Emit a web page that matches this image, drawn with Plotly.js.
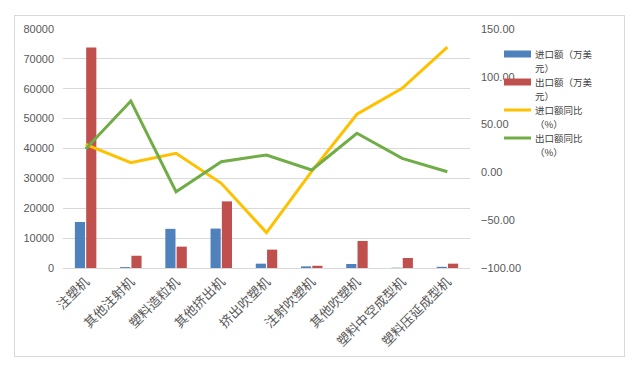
<!DOCTYPE html>
<html>
<head>
<meta charset="utf-8">
<script src="https://cdn.plot.ly/plotly-3.0.1.min.js"></script>
<style>
html,body{margin:0;padding:0;background:#fff;}
#frame{position:absolute;left:14px;top:15px;width:611px;height:342px;border:1px solid #d9d9d9;box-sizing:border-box;pointer-events:none;z-index:2;}
#chart{position:absolute;left:0;top:0;width:642px;height:368px;}
</style>
</head>
<body>
<div id="chart"></div>
<div id="frame"></div>
<script>
var categories = ["注塑机","其他注射机","塑料造粒机","其他挤出机","挤出吹塑机","注射吹塑机","其他吹塑机","塑料中空成型机","塑料压延成型机"];
var importValue = [15400, 300, 13100, 13200, 1450, 550, 1350, 100, 400];
var exportValue = [73800, 4100, 7150, 22300, 6150, 750, 9050, 3350, 1450];
var importYoY = [29.4, 10.1, 20.0, -11.4, -63.0, 1.0, 60.8, 88.0, 131.0];
var exportYoY = [24.5, 74.7, -20.2, 11.2, 18.2, 2.5, 40.9, 14.7, 0.7];
var seriesNames = ["进口额（万美元）", "出口额（万美元）", "进口额同比（%）", "出口额同比（%）"];
var legendLines = [["进口额（万美", "元）"], ["出口额（万美", "元）"], ["进口额同比", "（%）"], ["出口额同比", "（%）"]];

var BLUE = "#4F81BD", RED = "#C0504D", YELLOW = "#FFC000", GREEN = "#70AD47";
var seriesColors = [BLUE, RED, YELLOW, GREEN];
var symbolWidths = [7, 7, 3, 3];
var cjk = "'Noto Sans CJK SC', 'Liberation Sans', sans-serif";

var traces = [
  {type:"bar", x:categories, y:importValue, name:seriesNames[0], marker:{color:BLUE}, yaxis:"y"},
  {type:"bar", x:categories, y:exportValue, name:seriesNames[1], marker:{color:RED}, yaxis:"y"},
  {type:"scatter", mode:"lines", x:categories, y:importYoY, name:seriesNames[2], line:{color:YELLOW, width:3}, yaxis:"y2"},
  {type:"scatter", mode:"lines", x:categories, y:exportYoY, name:seriesNames[3], line:{color:GREEN, width:3}, yaxis:"y2"}
];

// plot area geometry (px) used to place the hand-built legend
var M = {l:63, r:172, t:29, b:100};
var W = 642, H = 368;
var pw = W - M.l - M.r, ph = H - M.t - M.b;
function px2x(px){ return (px - M.l) / pw; }
function px2y(py){ return (H - M.b - py) / ph; }

var shapes = [], annotations = [];
var legTop = 54, itemGap = 28, lineGap = 14;
for (var i = 0; i < 4; i++) {
  var y1 = legTop + i * itemGap;
  shapes.push({type:"line", xref:"paper", yref:"paper", x0:px2x(504), x1:px2x(531), y0:px2y(y1), y1:px2y(y1),
    line:{color:seriesColors[i], width:symbolWidths[i]}});
  for (var j = 0; j < 2; j++) {
    annotations.push({xref:"paper", yref:"paper", x:px2x(534), y:px2y(y1 + j * lineGap), xanchor:"left", yanchor:"middle",
      text:legendLines[i][j], showarrow:false, borderpad:0, font:{family:cjk, size:9.5, color:"#404040"}});
  }
}

var layout = {
  width:W, height:H,
  margin:M,
  paper_bgcolor:"#ffffff", plot_bgcolor:"#ffffff",
  font:{family:cjk, size:11, color:"#595959"},
  barmode:"group", bargap:0.5, bargroupgap:0.1,
  showlegend:false,
  shapes:shapes, annotations:annotations,
  xaxis:{type:"category", tickangle:-45, tickfont:{family:cjk, size:13, color:"#595959"}, showgrid:false, showline:true, linecolor:"#d9d9d9", linewidth:1, ticks:"", automargin:false},
  yaxis:{range:[0,80000], dtick:10000, tickformat:"d", showgrid:true, gridcolor:"#d9d9d9", gridwidth:1, zeroline:false, showline:false, ticks:"", ticklabelstandoff:8, tickfont:{family:"'Liberation Sans', sans-serif", size:11, color:"#595959"}, automargin:false},
  yaxis2:{overlaying:"y", side:"right", range:[-100,150], dtick:50, tickformat:".2f", showgrid:false, zeroline:false, showline:false, ticks:"", ticklabelstandoff:10, tickfont:{family:"'Liberation Sans', sans-serif", size:11, color:"#595959"}, automargin:false}
};

Plotly.newPlot("chart", traces, layout, {displayModeBar:false, staticPlot:true});
</script>
</body>
</html>
